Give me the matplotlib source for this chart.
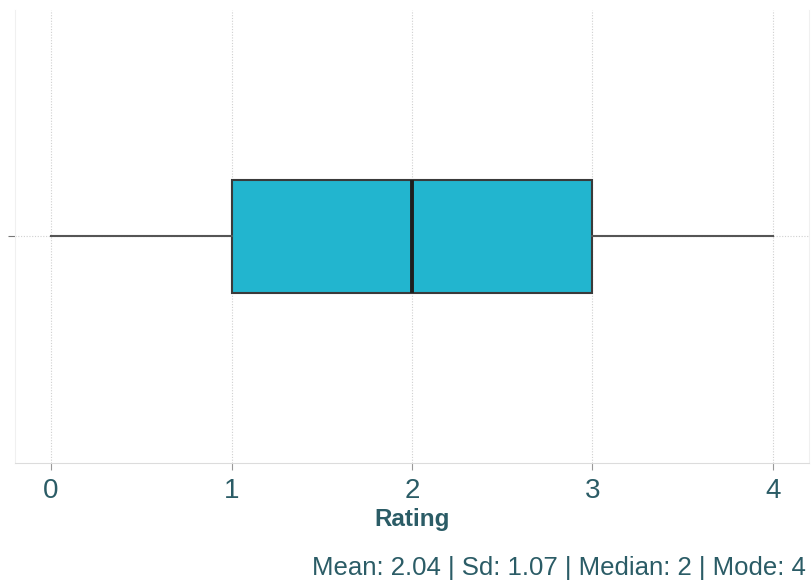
import matplotlib
matplotlib.use("Agg")
import matplotlib.pyplot as plt

# rating summary
box_stats = [dict(whislo=0, q1=1, med=2, q3=3, whishi=4, fliers=[])]
x_ticks = [0, 1, 2, 3, 4]
x_label = "Rating"
caption = "Mean: 2.04 | Sd: 1.07 | Median: 2 | Mode: 4"

text_col = "#2b5c66"
plt.rcParams['font.family'] = ['Liberation Sans', 'DejaVu Sans']

fig = plt.figure(figsize=(8.11, 5.8), dpi=100)
ax = fig.add_axes([0.0185, 0.2017, 0.979, 0.7813])

ax.bxp(box_stats, positions=[0], vert=False, widths=0.5, patch_artist=True,
       showcaps=False,
       boxprops=dict(facecolor="#22b5cf", edgecolor="#3a3a3a", linewidth=1.5),
       medianprops=dict(color="#1e1e1e", linewidth=2.8),
       whiskerprops=dict(color="#555555", linewidth=1.5))

ax.set_xlim(-0.2, 4.2)
ax.set_ylim(-1, 1)
ax.set_xticks(x_ticks)
ax.set_yticks([0])
ax.set_yticklabels([""])
ax.grid(True, linestyle=(0, (1, 1.5)), color="#d0d0d0", linewidth=0.8)
ax.set_axisbelow(True)

ax.spines["top"].set_visible(False)
for side in ["left", "right"]:
    ax.spines[side].set_color("#f0f0f0")
ax.spines["bottom"].set_color("#dcdcdc")

ax.tick_params(axis="x", length=5, color="#999999", labelsize=20, labelcolor=text_col, pad=6)
ax.tick_params(axis="y", length=5, color="#777777")

ax.set_xlabel(x_label, fontsize=17.5, fontweight="bold", color=text_col, labelpad=3)
fig.text(0.994, 0.0, caption, ha="right", va="bottom", fontsize=18.5, color=text_col)

fig.savefig("out.png", dpi=100)
